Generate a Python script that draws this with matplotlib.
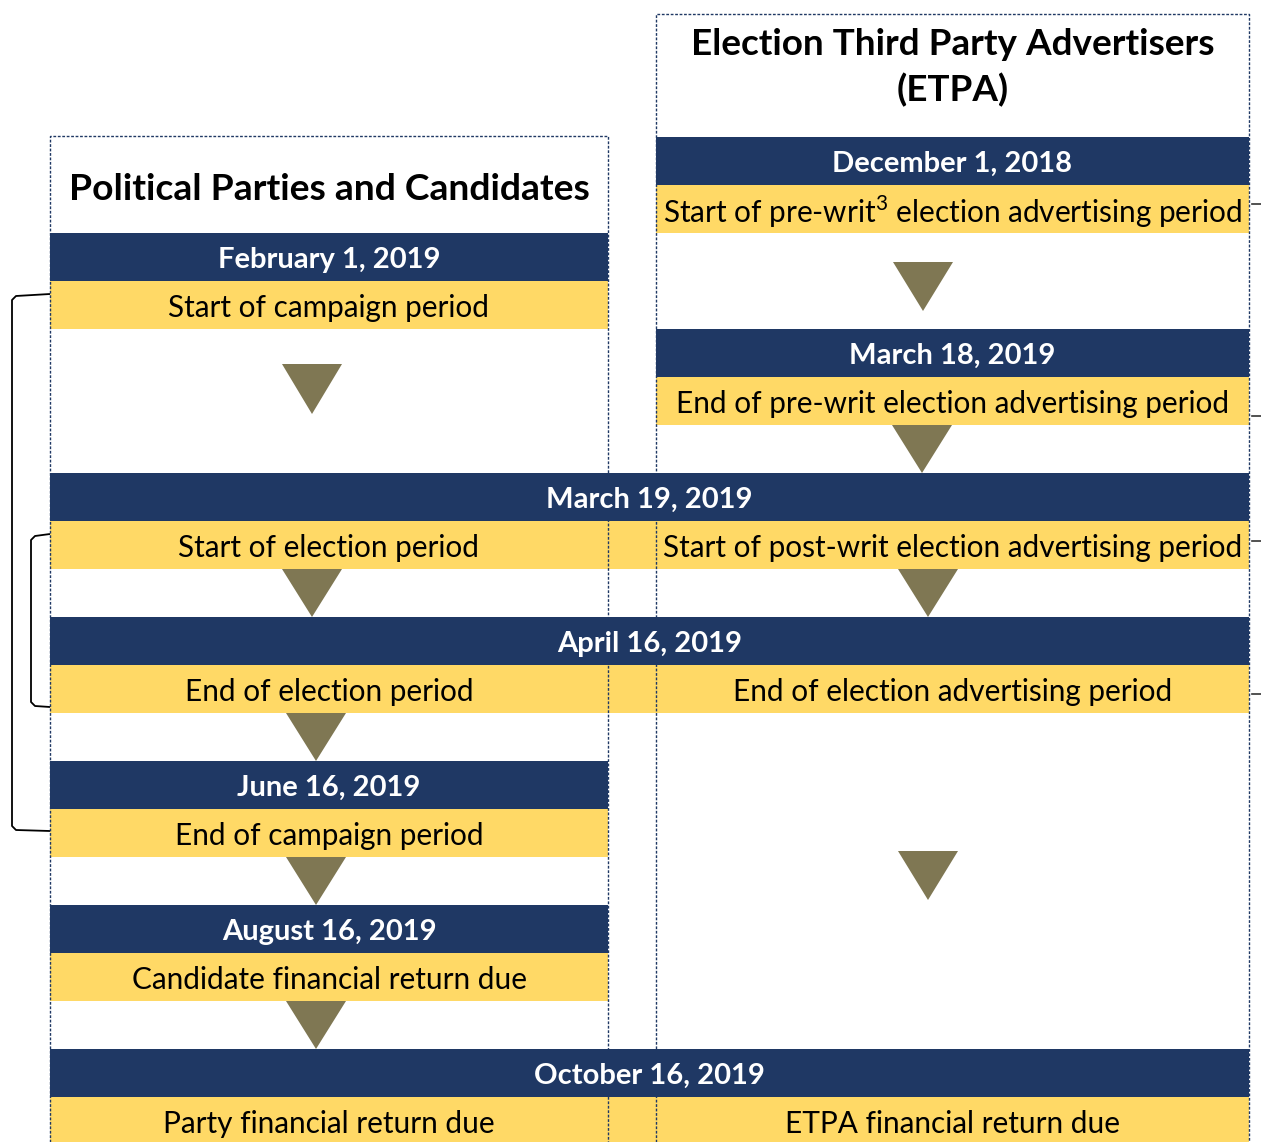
import matplotlib.pyplot as plt
from matplotlib.patches import Rectangle, Polygon

plt.rcParams["mathtext.fontset"] = "custom"
plt.rcParams["mathtext.rm"] = "Lato"

NAVY = "#1F3864"
GOLD = "#FFD966"
OLIVE = "#7F7753"
FONT = "Lato"

# left column: (date, event) -- parties and candidates
left_dates = ["February 1, 2019", "June 16, 2019", "August 16, 2019"]
left_events = ["Start of campaign period", "End of campaign period",
               "Candidate financial return due"]
# right column -- ETPA
right_dates = ["December 1, 2018", "March 18, 2019"]
right_events = ["Start of pre-writ$^{\\mathrm{3}}$ election advertising period",
                "End of pre-writ election advertising period"]
# shared rows spanning both columns
shared_dates = ["March 19, 2019", "April 16, 2019", "October 16, 2019"]
shared_left = ["Start of election period", "End of election period",
               "Party financial return due"]
shared_right = ["Start of post-writ election advertising period",
                "End of election advertising period", "ETPA financial return due"]

titles = ["Political Parties and Candidates",
          "Election Third Party Advertisers\n(ETPA)"]

W, H = 1261, 1142
fig = plt.figure(figsize=(W / 100, H / 100), dpi=100)
ax = fig.add_axes([0, 0, 1, 1])
ax.set_xlim(0, W)
ax.set_ylim(H, 0)
ax.axis("off")

LX0, LX1 = 50, 608
RX0, RX1 = 656, 1249
ROW = 48


def band(x0, x1, y, color, z):
    ax.add_patch(Rectangle((x0, y), x1 - x0, ROW, facecolor=color,
                           edgecolor="none", zorder=z))


def date_row(x0, x1, y, text):
    band(x0, x1, y, NAVY, 4)
    ax.text((x0 + x1) / 2, y + ROW / 2 + 3, text, color="white", fontsize=21,
            fontweight="bold", family=FONT, ha="center", va="center", zorder=6)


def event_text(x0, x1, y, text):
    ax.text((x0 + x1) / 2, y + ROW / 2 + 3, text, color="black", fontsize=21.4,
            family=FONT, ha="center", va="center", zorder=6)


def arrow(xc, ytop, h=50, w=60):
    ax.add_patch(Polygon([(xc - w / 2, ytop), (xc + w / 2, ytop), (xc, ytop + h)],
                         closed=True, facecolor=OLIVE, edgecolor="none", zorder=5))


# dotted column frames (behind the navy date bars)
dot = dict(color=NAVY, lw=1.0, ls=(0, (2, 1.2)), zorder=3)
ax.plot([LX0, LX0, LX1, LX1], [H, 136, 136, H], **dot)
ax.plot([RX0, RX0, RX1, RX1], [H, 14, 14, H], **dot)

# titles
ax.text((LX0 + LX1) / 2, 189, titles[0], fontsize=26.8, fontweight="bold",
        family=FONT, ha="center", va="center")
ax.text((RX0 + RX1) / 2, 68, titles[1], fontsize=26.6, fontweight="bold",
        family=FONT, ha="center", va="center", linespacing=1.42)

# left-only rows
left_y = [233, 761, 905]
for y, d, e in zip(left_y, left_dates, left_events):
    date_row(LX0, LX1, y, d)
    band(LX0, LX1, y + ROW, GOLD, 2)
    event_text(LX0, LX1, y + ROW, e)

# right-only rows
right_y = [137, 329]
for y, d, e in zip(right_y, right_dates, right_events):
    date_row(RX0, RX1, y, d)
    band(RX0, RX1, y + ROW, GOLD, 2)
    event_text(RX0, RX1, y + ROW, e)

# shared rows
shared_y = [473, 617, 1049]
for y, d, el, er in zip(shared_y, shared_dates, shared_left, shared_right):
    date_row(LX0, RX1, y, d)
    band(LX0, RX1, y + ROW, GOLD, 2)
    event_text(LX0, LX1, y + ROW, el)
    event_text(RX0, RX1, y + ROW, er)

# arrows
for xc, yt in [(312, 364), (312, 569), (316, 713), (316, 857), (316, 1001)]:
    arrow(xc, yt, h=48 if yt > 400 else 50)
for xc, yt in [(923, 262), (922, 425), (928, 569), (928, 851)]:
    arrow(xc, yt, h=48 if yt in (425, 569) else 49)

# brackets on the left
br = dict(color="black", lw=1.3, zorder=1, solid_capstyle="butt")
ax.plot([LX0, 16, 12, 12, 16, LX0], [294, 296, 300, 826, 830, 831], **br)
ax.plot([LX0, 35, 31, 31, 35, LX0], [534, 536, 540, 702, 706, 707], **br)

# bracket stubs on the right (cut off at the edge)
for yb in [204, 416, 541, 694]:
    ax.plot([1252, W], [yb, yb], color="#333333", lw=1.2)

fig.savefig("out.png", dpi=100)
